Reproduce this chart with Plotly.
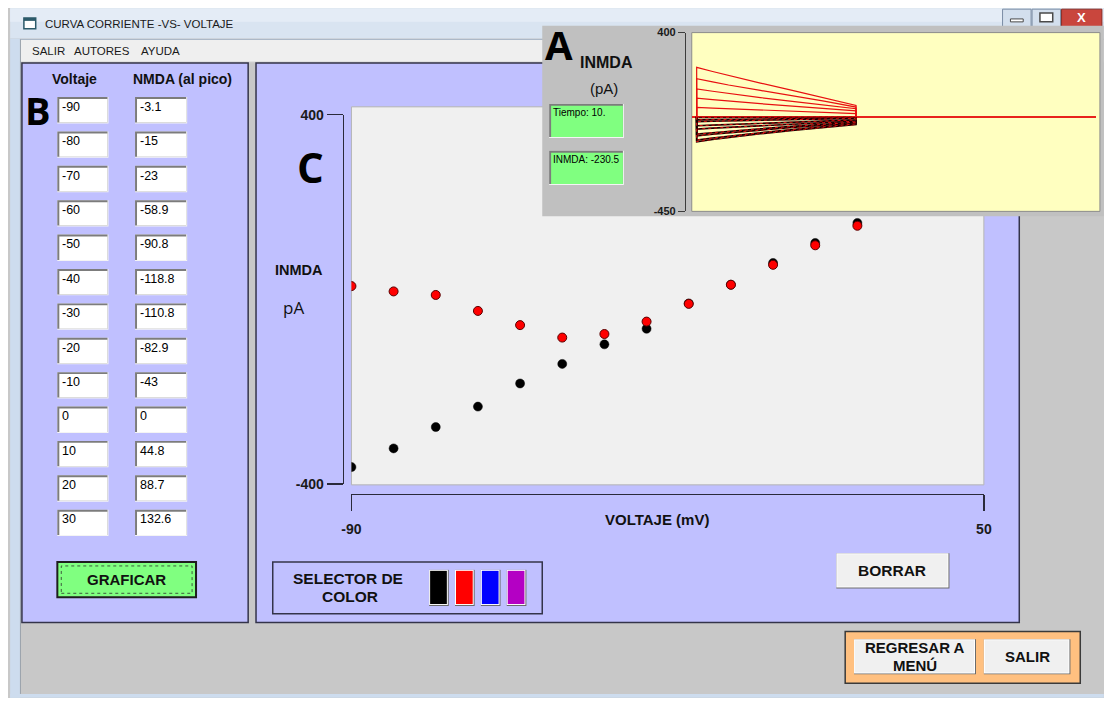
import plotly.graph_objects as go

# reference canvas (1112 x 706); the page adds an 8 px body margin,
# so the figure itself covers the area from 8 px to (size - 8 px).
REF_W, REF_H = 1112, 706
OFF = 8
W, H = REF_W - 2 * OFF, REF_H - 2 * OFF

# ---------------- data ----------------
voltajes = [-90, -80, -70, -60, -50, -40, -30, -20, -10, 0, 10, 20, 30]
nmda_pico = [-3.1, -15, -23, -58.9, -90.8, -118.8, -110.8, -82.9, -43, 0, 44.8, 88.7, 132.6]
nmda_previo = [-410, -368, -320, -274, -222, -178, -134, -99, -42, 0, 49, 94, 139]

eje_x_ticks = [-90, 50]
eje_x_texto = ["-90", "50"]
eje_y_ticks = [-400, 400]
eje_y_texto = ["-400", "400"]

inset_t = [0, 0, 1, 2, 4, 6, 8, 10, 10]
inset_volts = [-90, -80, -70, -60, -50, -40, -30, -20, -10, 0, 10, 20, 30, 40, 50]
inset_corrientes = [
    [0, -3.1, -2.9, -2.7, -2.3, -1.9, -1.5, -1.1, 0],
    [0, -15, -14, -13, -11, -9, -7, -5, 0],
    [0, -23, -21.5, -20, -17, -14, -11, -8, 0],
    [0, -58.9, -54, -50, -42, -35, -28, -21, 0],
    [0, -90.8, -83, -76, -63, -51, -40, -29, 0],
    [0, -118.8, -108, -98, -81, -65, -50, -37, 0],
    [0, -110.8, -101, -92, -76, -61, -47, -34, 0],
    [0, -82.9, -76, -69, -57, -46, -36, -26, 0],
    [0, -43, -40, -37, -31, -25, -20, -15, 0],
    [0, 0, 0, 0, 0, 0, 0, 0, 0],
    [0, 44.8, 41, 38, 32, 26, 20, 15, 0],
    [0, 88.7, 81, 74, 62, 50, 39, 28, 0],
    [0, 132.6, 121, 110, 91, 73, 55, 38, 0],
    [0, 181, 166, 151, 125, 100, 74, 46, 0],
    [0, 235, 215, 196, 160, 125, 88, 54, 0],
]
inset_y_ticks = [-450, 400]
inset_y_texto = ["-450", "400"]

selector_colores = ["#000000", "#ff0000", "#0000ff", "#b400c4"]

# ---------------- helpers (reference pixel -> paper) ----------------
def px(x):
    return (x - OFF) / W


def py(y):
    return 1 - (y - OFF) / H


def dom(a, b):
    return [max(0.0, min(1.0, a)), max(0.0, min(1.0, b))]


shapes = []
annotations = []
FONT = "Liberation Sans, Arial, sans-serif"
NARROW = "Liberation Sans Narrow, Arial Narrow, Liberation Sans, sans-serif"
ROUND = "Open Sans, Noto Sans, sans-serif"


def rect(x0, y0, x1, y1, fill="rgba(0,0,0,0)", line="rgba(0,0,0,0)", lw=0, dash="solid"):
    shapes.append(dict(type="rect", xref="paper", yref="paper",
                       x0=px(x0), x1=px(x1), y0=py(y1), y1=py(y0),
                       fillcolor=fill, line=dict(color=line, width=lw, dash=dash),
                       layer="below"))


def seg(x0, y0, x1, y1, color, lw=1):
    shapes.append(dict(type="line", xref="paper", yref="paper",
                       x0=px(x0), x1=px(x1), y0=py(y0), y1=py(y1),
                       line=dict(color=color, width=lw), layer="below"))


def text(x, y, s, size, bold=False, color="#111111", family=FONT, xanchor="center"):
    annotations.append(dict(x=px(x), y=py(y), xref="paper", yref="paper",
                            text=f"<b>{s}</b>" if bold else s, showarrow=False,
                            xanchor=xanchor, yanchor="middle",
                            font=dict(size=size, color=color, family=family)))


def sunken(x0, y0, x1, y1, fill="#ffffff"):
    rect(x0, y0, x1, y1, fill="#f4f4f4")
    rect(x0, y0, x1 - 1, y1 - 1, fill="#7c7c7c")
    rect(x0 + 2, y0 + 2, x1 - 1, y1 - 1, fill=fill)


def raised(x0, y0, x1, y1, fill="#f0f0f0"):
    rect(x0, y0, x1, y1, fill="#6a6a6a")
    rect(x0, y0, x1 - 1, y1 - 1, fill="#ffffff")
    rect(x0 + 1, y0 + 1, x1 - 2, y1 - 2, fill=fill)


# ---------------- window chrome ----------------
rect(0, 0, REF_W, 31, fill="#d9e4f1")
rect(0, 0, REF_W, 14, fill="#e4ecf6")
rect(0, 31, 10, REF_H, fill="#cddcee")
rect(0, 702, REF_W, REF_H, fill="#cddcee")
rect(10, 32, REF_W, 55, fill="#efefef")
seg(10, 32, REF_W, 32, "#a9b6c6", 1)
seg(10, 55, REF_W, 55, "#d6d6d6", 1)
seg(10.5, 32, 10.5, 702, "#9aa2ac", 1)
# icon
rect(14, 10, 26, 21, fill="#ffffff", line="#2c5a6a", lw=1.5)
rect(14, 10, 26, 13, fill="#2c5a6a")
# window controls
rect(1009, 1, 1038, 19, fill="#d3dfed", line="#7a8ca4", lw=1)
rect(1017, 11, 1030, 14, fill="#ffffff", line="#4a4a4a", lw=1)
rect(1039, 1, 1068, 19, fill="#d3dfed", line="#7a8ca4", lw=1)
rect(1047, 5, 1060, 14, fill="#ffffff", line="#4a4a4a", lw=1.5)
rect(1069, 1, 1110, 19, fill="#c9463d", line="#8a2a22", lw=1)

# ---------------- panels ----------------
rect(12, 56, 242, 629, fill="#c0c0ff", line="#34344a", lw=1.5)
rect(250, 56, 1026, 629, fill="#c0c0ff", line="#34344a", lw=1.5)
# main plot area
rect(347, 101, 990, 488, fill="#f0f0f0", line="#b4b4b4", lw=1)

# table boxes
for i in range(len(voltajes)):
    top = 91 + 35.2 * i
    sunken(48, top, 100, top + 27)
    sunken(127, top, 180, top + 27)
    text(51, top + 10, f"{voltajes[i]:g}", 12.5, family=NARROW, color="#000000", xanchor="left")
    text(130, top + 10, f"{nmda_pico[i]:g}", 12.5, family=NARROW, color="#000000", xanchor="left")

# GRAFICAR button
rect(48, 567, 189, 603, fill="#80ff80", line="#1e1e1e", lw=2)
rect(52, 571, 185, 599, line="#3c5a3c", lw=1, dash="dot")

# selector de color
rect(267, 567, 541, 620, line="#34344a", lw=1.5)
for k, c in enumerate(selector_colores):
    x0 = 426 + 26.3 * k
    raised(x0, 575, x0 + 20, 612, fill=c)

# BORRAR
raised(840, 558, 955, 594)

# bottom orange group
rect(849, 638, 1088, 691, fill="#ffc080", line="#3a3a3a", lw=1.5)
raised(858, 646, 982, 682)
raised(990, 646, 1078, 682)

# inset A window
rect(541, 18, REF_W, 213, fill="#c0c0c0")
rect(693, 25, 1108, 208, fill="#ffffc0", line="#8c8c8c", lw=1)
sunken(548, 98, 624, 133, fill="#80ff80")
sunken(548, 146, 624, 181, fill="#80ff80")

# ---------------- texts ----------------
text(33, 16, "CURVA CORRIENTE -VS- VOLTAJE", 11.5, color="#1a1a1a", xanchor="left")
text(20, 44, "SALIR", 11.5, color="#1a1a1a", xanchor="left")
text(63, 44, "AUTORES", 11.5, color="#1a1a1a", xanchor="left")
text(131, 44, "AYUDA", 11.5, color="#1a1a1a", xanchor="left")
text(1089, 10, "X", 13, bold=True, color="#ffffff")

text(65, 73, "Voltaje", 14, bold=True)
text(175, 73, "NMDA (al pico)", 14, bold=True)
text(28, 104, "B", 38, bold=True, color="#000000", family=ROUND)

text(118, 585, "GRAFICAR", 15, bold=True)
text(344, 584, "SELECTOR DE", 15.5, bold=True)
text(346, 602, "COLOR", 15.5, bold=True)
text(897, 576, "BORRAR", 15.5, bold=True)
text(920, 655, "REGRESAR A", 15, bold=True)
text(920, 673, "MENÚ", 15, bold=True)
text(1034, 664, "SALIR", 15, bold=True)

text(305, 162, "C", 42, bold=True, color="#000000", family=ROUND)
text(294, 268, "INMDA", 14.5, bold=True)
text(288, 306, "pA", 17, family=ROUND)
text(658, 523, "VOLTAJE (mV)", 15, bold=True)

text(558, 37, "A", 40, bold=True, color="#000000", family=ROUND)
text(606, 56, "INMDA", 16, bold=True)
text(604, 82, "(pA)", 15)
text(550, 107, "Tiempo: 10.", 10, family=NARROW, color="#000000", xanchor="left")
text(550, 155, "INMDA: -230.5", 10, family=NARROW, color="#000000", xanchor="left")

# ---------------- traces ----------------
fig = go.Figure()

# main I-V data
fig.add_trace(go.Scatter(x=voltajes, y=nmda_previo, mode="markers", xaxis="x", yaxis="y",
                         marker=dict(color="#000000", size=9, line=dict(width=0.5, color="#000000")),
                         showlegend=False, hoverinfo="skip", cliponaxis=True))
fig.add_trace(go.Scatter(x=voltajes, y=nmda_pico, mode="markers", xaxis="x", yaxis="y",
                         marker=dict(color="#ff0000", size=9, line=dict(width=1, color="#5a0000")),
                         showlegend=False, hoverinfo="skip", cliponaxis=True))

# decorative visible axes of the main panel
fig.add_trace(go.Scatter(x=[], y=[], xaxis="x2", yaxis="y2", showlegend=False, hoverinfo="skip"))

# inset current traces
for v, cur in zip(inset_volts, inset_corrientes):
    if v < 0:
        fig.add_trace(go.Scatter(x=inset_t, y=cur, mode="lines", xaxis="x3", yaxis="y3",
                                 line=dict(color="#1a0000", width=1.6),
                                 showlegend=False, hoverinfo="skip"))
        fig.add_trace(go.Scatter(x=inset_t, y=cur, mode="lines", xaxis="x3", yaxis="y3",
                                 line=dict(color="#e01010", width=1, dash="dot"),
                                 showlegend=False, hoverinfo="skip"))
    else:
        fig.add_trace(go.Scatter(x=inset_t, y=cur, mode="lines", xaxis="x3", yaxis="y3",
                                 line=dict(color="#e81010", width=1.2),
                                 showlegend=False, hoverinfo="skip"))

# inset time axis: t=0 at ref x 698, t=10 at ref x 860
t_px = 16.2
x3_left, x3_right = 693, REF_W - OFF
x3_range = [(x3_left - 698) / t_px, (x3_right - 698) / t_px]

axis_col = "#2a2a3a"
fig.update_layout(
    width=W, height=H, autosize=False,
    margin=dict(l=0, r=0, t=0, b=0, pad=0),
    paper_bgcolor="#c8c8c8",
    plot_bgcolor="rgba(0,0,0,0)",
    hovermode=False,
    showlegend=False,
    shapes=shapes,
    annotations=annotations,
    xaxis=dict(domain=dom(px(347), px(990)), range=[-90, 60], visible=False, fixedrange=True),
    yaxis=dict(domain=dom(py(488), py(101)), range=[-450, 400], visible=False, fixedrange=True),
    xaxis2=dict(domain=dom(px(347), px(990)), range=[-90, 50], anchor="free", position=py(497),
                showline=True, linecolor=axis_col, linewidth=1.5,
                ticks="outside", ticklen=16, tickwidth=1.5, tickcolor=axis_col,
                tickvals=eje_x_ticks, ticktext=eje_x_texto, ticklabelstandoff=6,
                tickfont=dict(size=14, color="#1a1a1a", family=FONT, weight="bold"),
                showgrid=False, zeroline=False, fixedrange=True),
    yaxis2=dict(domain=dom(py(487), py(109)), range=[-400, 400], anchor="free", position=px(338),
                side="left", showline=True, linecolor=axis_col, linewidth=1.5,
                ticks="outside", ticklen=16, tickwidth=1.5, tickcolor=axis_col,
                tickvals=eje_y_ticks, ticktext=eje_y_texto,
                tickfont=dict(size=14, color="#1a1a1a", family=FONT, weight="bold"),
                showgrid=False, zeroline=False, fixedrange=True),
    xaxis3=dict(domain=dom(px(x3_left), px(x3_right)), range=x3_range, visible=False, fixedrange=True),
    yaxis3=dict(domain=dom(py(208), py(25)), range=[-450, 400], anchor="free", position=px(686),
                side="left", showline=True, linecolor="#3c3c3c", linewidth=1,
                ticks="outside", ticklen=7, tickwidth=1, tickcolor="#3c3c3c",
                tickvals=inset_y_ticks, ticktext=inset_y_texto,
                tickfont=dict(size=11, color="#1a1a1a", family=FONT, weight="bold"),
                showgrid=False, zeroline=True, zerolinecolor="#e8231c", zerolinewidth=2,
                fixedrange=True),
)

fig.write_html("out.html", config={"displayModeBar": False, "staticPlot": True})
